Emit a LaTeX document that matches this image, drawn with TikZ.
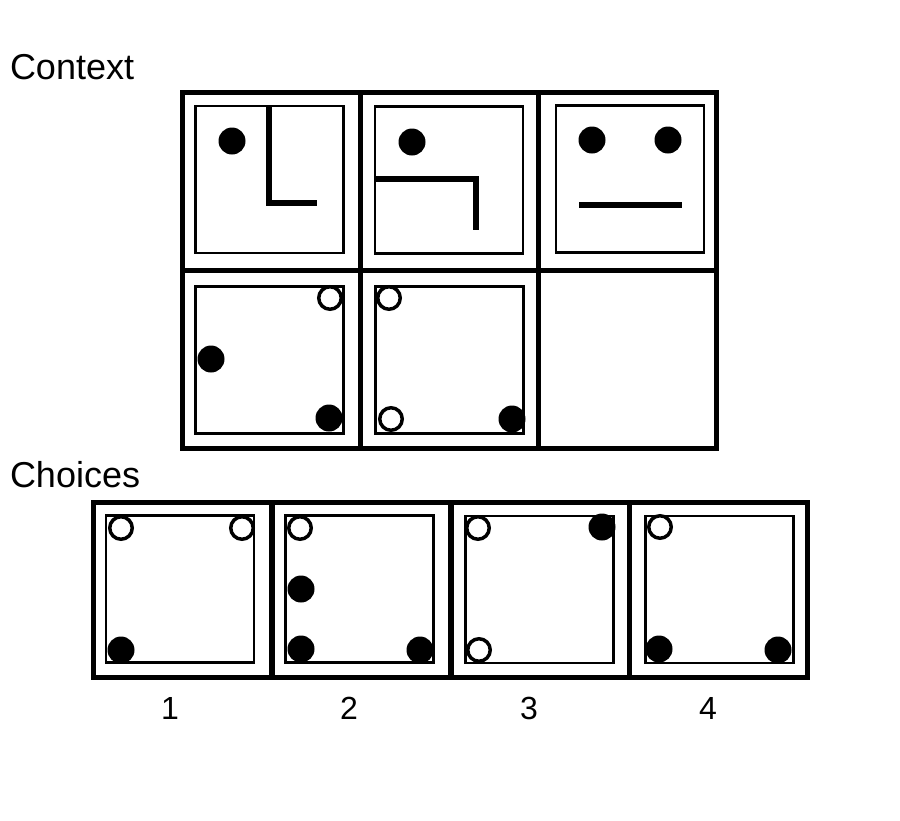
\documentclass[tikz,border=0pt]{standalone}
\usepackage{fontspec}
\setmainfont{Liberation Sans}
\begin{document}
\begin{tikzpicture}[x=1pt,y=-1pt]

	%DEFINICIONES
	\tikzstyle{every node}=[inner sep=0pt, outer sep=0pt]
	\tikzstyle{titulo} = [anchor=base west, font=\fontsize{36}{40}\selectfont]
	\tikzstyle{numero} = [anchor=base, font=\fontsize{32}{36}\selectfont]
	\tikzstyle{celda} = [draw, line width=5pt, minimum width=178pt, minimum height=178pt]
	\tikzstyle{marco} = [draw, line width=2.5pt, minimum width=148pt, minimum height=147pt]
	\tikzstyle{lleno} = [circle, fill=black, minimum size=27pt]
	\tikzstyle{hueco} = [circle, draw, fill=white, line width=3.5pt, minimum size=22.5pt]
	\tikzstyle{trazo} = [line width=6pt]

	\useasboundingbox (0,0) rectangle (900,820);

	%TITULOS
	\draw(10,79) node[titulo](ctx){Context};
	\draw(10,487) node[titulo](opc){Choices};

	%CONTEXTO
	\draw(271,181) node[celda](c1){};
	\draw(449,181) node[celda](c2){};
	\draw(627,181) node[celda](c3){};
	\draw(271,359) node[celda](c4){};
	\draw(449,359) node[celda](c5){};
	\draw(627,359) node[celda](c6){};	%CELDA VACIA

	\draw(269.5,179.5) node[marco](m1){};
	\draw(449,180) node[marco](m2){};
	\draw(630,179) node[marco](m3){};
	\draw(269.5,360) node[marco](m4){};
	\draw(449.5,360) node[marco](m5){};

	\draw [trazo] (269,106) -- (269,203) -- (317,203);	%L DE LA 1
	\draw [trazo] (375,179) -- (476,179) -- (476,230);	%GANCHO DE LA 2
	\draw [trazo] (579,205) -- (682,205);	%BOCA DE LA 3

	\draw(232,141) node[lleno](p1){};
	\draw(412,142) node[lleno](p2){};
	\draw(592,140) node[lleno](p3a){};
	\draw(668,140) node[lleno](p3b){};

	\draw(330,298) node[hueco](p4a){};
	\draw(211,359) node[lleno](p4b){};
	\draw(329,418) node[lleno](p4c){};

	\draw(389,298) node[hueco](p5a){};
	\draw(391,419) node[hueco](p5b){};
	\draw(512,419) node[lleno](p5c){};

	%OPCIONES
	\draw(182,589.5) node[celda, minimum height=175pt](o1){};
	\draw(361,589.5) node[celda, minimum height=175pt](o2){};
	\draw(540,589.5) node[celda, minimum height=175pt](o3){};
	\draw(718,589.5) node[celda, minimum height=175pt](o4){};

	\draw(180,589) node[marco](n1){};
	\draw(359.5,589) node[marco](n2){};
	\draw(539.5,589.5) node[marco](n3){};
	\draw(719.5,589.5) node[marco](n4){};

	\draw(121,528) node[hueco](q1a){};
	\draw(242,528) node[hueco](q1b){};
	\draw(121,650) node[lleno](q1c){};

	\draw(300,528) node[hueco](q2a){};
	\draw(301,589) node[lleno](q2b){};
	\draw(301,649) node[lleno](q2c){};
	\draw(420,650) node[lleno](q2d){};

	\draw(478,528) node[hueco](q3a){};
	\draw(602,527) node[lleno](q3b){};
	\draw(479,650) node[hueco](q3c){};

	\draw(660,527) node[hueco](q4a){};
	\draw(659,649) node[lleno](q4b){};
	\draw(778,650) node[lleno](q4c){};

	%NUMEROS
	\draw(170,719) node[numero](r1){1};
	\draw(349,719) node[numero](r2){2};
	\draw(529,719) node[numero](r3){3};
	\draw(708,719) node[numero](r4){4};
\end{tikzpicture}
\end{document}
